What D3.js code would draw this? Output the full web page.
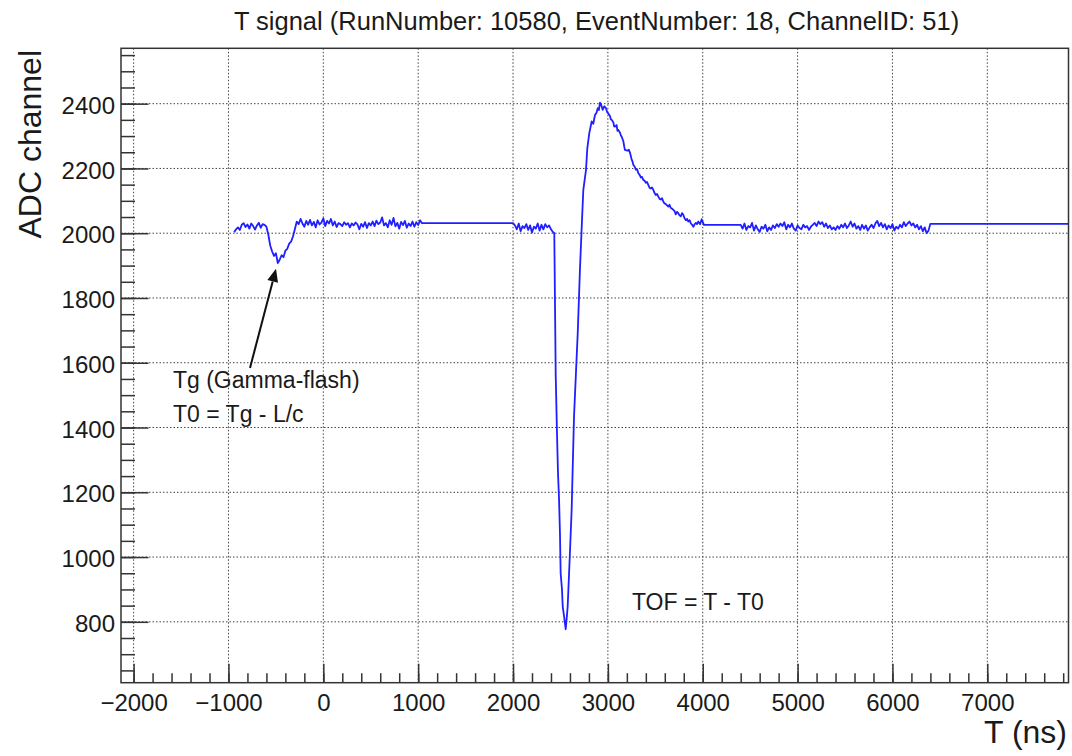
<!doctype html>
<html lang="en">
  <head>
    <meta charset="utf-8">
    <title>T signal</title>
    <style>
        body { margin: 0; background: #fff; }
        svg text { font-family: "Liberation Sans", Arial, Helvetica, sans-serif; fill: #1a1a1a; }
        .grid line { stroke: #444; stroke-width: 1; stroke-dasharray: 1.5,2; }
        .axis line { stroke: #333; stroke-width: 1.5; }
        .axis path { display: none; }
        .frame { fill: none; stroke: #333; stroke-width: 1.5; }
        .trace { fill: none; stroke: #1f1fff; stroke-width: 1.8; stroke-linejoin: round; }
    </style>
  </head>
  <body>
    <svg width="1072" height="756"></svg>
    <script src="https://d3js.org/d3.v7.min.js"></script>
    <script>
        // ---- data: [T (ns), ADC] ----
        var preFlash = [[-940,2003],[-920,2012],[-900,2018],[-880,2010],[-860,2026],[-840,2031],[-820,2019],[-800,2027],
            [-780,2014],[-760,2030],[-740,2022],[-720,2011],[-700,2024],[-680,2032],[-660,2017],[-640,2028],[-620,2026]];
        var gammaFlash = [[-600,2020],[-580,1996],[-560,1962],[-540,1944],[-520,1930],[-500,1938],[-480,1908],[-460,1918],
            [-440,1932],[-420,1926],[-400,1946],[-380,1952],[-360,1968],[-340,1974],[-320,1990],[-300,2012]];
        var baseline1 = [[-280,2036],[-260,2028],[-240,2044],[-220,2030],[-200,2020],[-180,2038],[-160,2026],[-140,2041],
            [-120,2024],[-100,2035],[-80,2018],[-60,2040],[-40,2027],[-20,2033],[0,2046],[20,2022],[40,2038],[60,2030],
            [80,2044],[100,2024],[120,2036],[140,2019],[160,2031],[180,2028],[200,2022],[220,2034],[240,2026],[260,2031],
            [280,2018],[300,2030],[320,2024],[340,2033],[360,2027],[380,2012],[400,2029],[420,2020],[440,2034],[460,2016],
            [480,2031],[500,2024],[520,2036],[540,2022],[560,2039],[580,2028],[600,2033],[620,2049],[640,2024],[660,2031],
            [680,2018],[700,2040],[720,2026],[740,2047],[760,2021],[780,2032],[800,2014],[820,2035],[840,2025],[860,2038],
            [880,2017],[900,2030],[920,2022],[940,2036],[960,2020],[980,2034],[1000,2025],[1020,2040],[1040,2031]];
        var baseline2 = [[2000,2031],[2020,2024],[2040,2012],[2060,2030],[2080,2006],[2100,2022],[2120,2016],[2140,2028],
            [2160,2010],[2180,2024],[2200,2002],[2220,2020],[2240,2014],[2260,2030],[2280,2008],[2300,2026],[2320,2012],
            [2340,2028],[2360,2018],[2380,2024],[2400,2012],[2420,2004],[2435,2000]];
        var neutronPulse = [[2442,1794],[2450,1560],[2462,1400],[2474,1259],[2485,1180],[2495,1069],
            [2502,950],[2516,900],[2524,847],[2541,811],[2555,777],[2566,811],[2576,847],[2587,924],[2601,1022],
            [2618,1146],[2629,1274],[2643,1434],[2664,1573],[2682,1691],[2706,1892],[2721,1998],[2741,2134],
            [2769,2195],[2783,2262],[2804,2309],[2829,2345],[2846,2338],[2864,2365],[2880,2372],[2893,2386],[2905,2380],
            [2917,2403],[2930,2396],[2945,2381],[2962,2392],[2980,2386],[2992,2374],[3004,2370],[3022,2362],[3031,2352],
            [3040,2350],[3058,2342],[3066,2330],[3075,2329],[3092,2334],[3101,2316],[3110,2319],[3128,2310],[3137,2302],
            [3146,2298],[3163,2284],[3172,2268],[3180,2257],[3205,2255],[3220,2258],[3233,2249],[3250,2228],[3259,2222],
            [3268,2211],[3282,2206],[3295,2196],[3308,2198],[3321,2185],[3335,2180],[3348,2172],[3360,2174],[3373,2165],
            [3387,2162],[3400,2156],[3413,2158],[3426,2149],[3440,2140],[3452,2138],[3466,2141],[3479,2134],[3492,2124],
            [3505,2118],[3518,2121],[3532,2113],[3545,2106],[3558,2104],[3571,2108],[3584,2098],[3597,2092],[3610,2090],
            [3624,2086],[3637,2082],[3650,2088],[3663,2078],[3676,2076],[3690,2072],[3703,2068],[3716,2058],[3729,2066],
            [3742,2062],[3755,2055],[3768,2052],[3782,2062],[3795,2057],[3808,2046],[3822,2040],[3835,2044],[3848,2036],
            [3862,2040],[3875,2030],[3888,2026],[3901,2020],[3915,2028],[3928,2032],[3940,2028],[3953,2036],[3972,2028],
            [3989,2043],[4013,2026]];
        var baseline3 = [[4400,2026],[4420,2014],[4440,2030],[4460,2010],[4480,2022],[4500,2018],[4520,2032],[4540,2008],
            [4560,2024],[4580,2012],[4600,2004],[4620,2020],[4640,2014],[4660,2026],[4680,2006],[4700,2018],[4720,2010],
            [4740,2024],[4760,2016],[4780,2028],[4800,2020],[4820,2030],[4840,2022],[4860,2034],[4880,2012],[4900,2026],
            [4920,2018],[4940,2030],[4960,2014],[4980,2008],[5000,2024],[5020,2016],[5040,2012],[5060,2026],[5080,2018],
            [5100,2022],[5120,2010],[5140,2020],[5160,2026],[5180,2032],[5200,2022],[5220,2036],[5240,2028],[5260,2034],
            [5280,2020],[5300,2030],[5320,2016],[5340,2024],[5360,2012],[5380,2018],[5400,2010],[5420,2022],[5440,2014],
            [5460,2026],[5480,2018],[5500,2030],[5520,2016],[5540,2024],[5560,2036],[5580,2020],[5600,2030],[5620,2014],
            [5640,2022],[5660,2010],[5680,2026],[5700,2014],[5720,2024],[5740,2008],[5760,2018],[5780,2026],[5800,2016],
            [5820,2030],[5840,2038],[5860,2022],[5880,2032],[5900,2018],[5920,2028],[5940,2012],[5960,2024],[5980,2016],
            [6000,2028],[6020,2008],[6040,2020],[6060,2014],[6080,2026],[6100,2018],[6120,2034],[6140,2022],[6160,2030],
            [6180,2036],[6200,2024],[6220,2030],[6240,2018],[6260,2026],[6280,2012],[6300,2022],[6320,2006],[6340,2018],
            [6360,2000],[6380,2008],[6400,2029]];
        var tailEnd = [[7900,2029]];

        var xMajor = [-2000,-1000,0,1000,2000,3000,4000,5000,6000,7000];
        var xMinor = d3.range(-2000, 7801, 200);
        var yMajor = [800,1000,1200,1400,1600,1800,2000,2200,2400];
        var yMinor = d3.range(650, 2551, 50);

        var title = "T signal (RunNumber: 10580, EventNumber: 18, ChannelID: 51)";
        var xTitle = "T (ns)";
        var yTitle = "ADC channel";
        var arrowFrom = [-773, 1584], arrowTo = [-499, 1890];
        var notes = [
            {t: -1585, v: 1521, text: "Tg (Gamma-flash)"},
            {t: -1585, v: 1418, text: "T0 = Tg - L/c"},
            {t: 3254, v: 837, text: "TOF = T - T0"}
        ];

        var signal = preFlash.concat(gammaFlash, baseline1, baseline2, neutronPulse, baseline3, tailEnd);

        // ---- layout ----
        var frameL = 121, frameR = 1068.5, frameT = 48.3, frameB = 682.7;
        var svg = d3.select("svg");

        var x = d3.scaleLinear().domain([-2133, 7856]).range([frameL, frameR]);
        var y = d3.scaleLinear().domain([612, 2571]).range([frameB, frameT]);

        // grid
        var grid = svg.append("g").attr("class", "grid");
        grid.selectAll(".gx").data(xMajor).enter().append("line")
            .attr("x1", d => x(d)).attr("x2", d => x(d))
            .attr("y1", frameT).attr("y2", frameB);
        grid.selectAll(".gy").data(yMajor).enter().append("line")
            .attr("y1", d => y(d)).attr("y2", d => y(d))
            .attr("x1", frameL).attr("x2", frameR);

        // trace
        svg.append("clipPath").attr("id", "plotClip")
            .append("rect").attr("x", frameL).attr("y", frameT)
            .attr("width", frameR - frameL).attr("height", frameB - frameT);

        svg.append("path")
            .datum(signal)
            .attr("class", "trace")
            .attr("clip-path", "url(#plotClip)")
            .attr("d", d3.line().x(d => x(d[0])).y(d => y(d[1])));

        // axes
        var fmt = d3.format("d");
        svg.append("g").attr("class", "axis")
            .attr("transform", "translate(0," + frameB + ")")
            .call(d3.axisBottom(x).tickValues(xMinor).tickSize(-9.5).tickFormat(""));
        svg.append("g").attr("class", "axis xlab")
            .attr("transform", "translate(0," + frameB + ")")
            .call(d3.axisBottom(x).tickValues(xMajor).tickSize(-19).tickPadding(11.5).tickFormat(fmt));
        svg.append("g").attr("class", "axis")
            .attr("transform", "translate(" + frameL + ",0)")
            .call(d3.axisLeft(y).tickValues(yMinor).tickSize(-14).tickFormat(""));
        svg.append("g").attr("class", "axis ylab")
            .attr("transform", "translate(" + frameL + ",0)")
            .call(d3.axisLeft(y).tickValues(yMajor).tickSize(-27.5).tickPadding(6).tickFormat(fmt));

        svg.selectAll(".xlab text, .ylab text")
            .style("font-size", "24px")
            .style("font-family", "'Liberation Sans', Arial, sans-serif")
            .attr("fill", "#1a1a1a");
        svg.selectAll(".ylab text").attr("dy", "0.4em");

        // frame
        svg.append("rect").attr("class", "frame")
            .attr("x", frameL).attr("y", frameT)
            .attr("width", frameR - frameL).attr("height", frameB - frameT);

        // titles
        svg.append("text").attr("x", 596.5).attr("y", 30)
            .attr("text-anchor", "middle").style("font-size", "25.5px").text(title);
        svg.append("text").attr("x", 1067).attr("y", 743)
            .attr("text-anchor", "end").style("font-size", "32px").text(xTitle);
        svg.append("text").attr("transform", "translate(40.5,50) rotate(-90)")
            .attr("text-anchor", "end").style("font-size", "32px").text(yTitle);

        // annotations
        svg.selectAll(".note").data(notes).enter().append("text")
            .attr("class", "note")
            .attr("x", d => x(d.t)).attr("y", d => y(d.v))
            .style("font-size", "23px")
            .text(d => d.text);

        var p0 = [x(arrowFrom[0]), y(arrowFrom[1])], p1 = [x(arrowTo[0]), y(arrowTo[1])];
        var ang = Math.atan2(p1[1] - p0[1], p1[0] - p0[0]);
        var headLen = 13, headHalf = 5.5;
        var base = [p1[0] - headLen * Math.cos(ang), p1[1] - headLen * Math.sin(ang)];
        svg.append("line")
            .attr("x1", p0[0]).attr("y1", p0[1]).attr("x2", base[0]).attr("y2", base[1])
            .attr("stroke", "#111").attr("stroke-width", 2);
        svg.append("path")
            .attr("d", "M" + p1 + "L" + [base[0] + headHalf * Math.sin(ang), base[1] - headHalf * Math.cos(ang)] +
                "L" + [base[0] - headHalf * Math.sin(ang), base[1] + headHalf * Math.cos(ang)] + "Z")
            .attr("fill", "#111");
    </script>
  </body>
</html>
